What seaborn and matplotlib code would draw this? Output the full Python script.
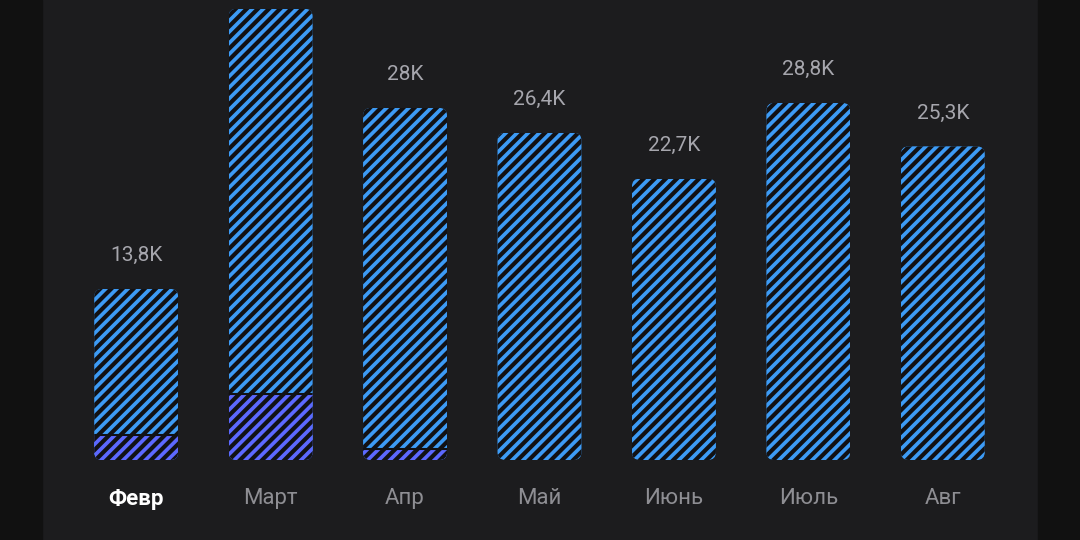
import matplotlib
matplotlib.use("Agg")
import matplotlib.pyplot as plt
import seaborn as sns
import pandas as pd
from matplotlib.patches import FancyBboxPatch, Rectangle

months = ["Февр", "Март", "Апр", "Май", "Июнь", "Июль", "Авг"]
totals = [13.8, 36.4, 28.4, 26.4, 22.7, 28.8, 25.3]
part = [2.0, 5.3, 0.9, 0.0, 0.0, 0.0, 0.0]
labels = ["13,8K", "36,4K", "28K", "26,4K", "22,7K", "28,8K", "25,3K"]

sns.set_theme(style="dark")
plt.rcParams['font.family'] = ['Roboto', 'DejaVu Sans']
plt.rcParams['hatch.color'] = '#111114'
plt.rcParams['hatch.linewidth'] = 3.0

BG = "#1c1c1e"
fig = plt.figure(figsize=(10.8, 5.4), dpi=100, facecolor=BG)
fig.patches.append(Rectangle((0, 0), 42/1080, 1, transform=fig.transFigure, color="#111111", zorder=0))
fig.patches.append(Rectangle((1038/1080, 0), 42/1080, 1, transform=fig.transFigure, color="#111111", zorder=0))
ax = fig.add_axes([69/1080, 80/540, 941/1080, 460/540])
ax.set_facecolor("none")
YMAX = 37.1

df = pd.DataFrame({"m": months, "t": totals, "p": part})
sns.barplot(data=df, x="m", y="t", color="#3d9bf5", saturation=1, width=0.625, ax=ax, linewidth=0)
sns.barplot(data=df, x="m", y="p", color="#5c68ff", saturation=1, width=0.625, ax=ax, linewidth=0)

n = len(months)
blue = ax.patches[:n]
purple = ax.patches[n:2*n]
for b, p in zip(blue, purple):
    for q in (b, p):
        q.set_hatch("///")
        q.set_edgecolor("#111114")
        q.set_linewidth(0)
    x, w, h = b.get_x(), b.get_width(), b.get_height()
    clip = FancyBboxPatch((x, 0), w, h, boxstyle="round,pad=0,rounding_size=0.06",
                          mutation_aspect=YMAX/7*941/460, transform=ax.transData,
                          facecolor="none", edgecolor="none")
    ax.add_patch(clip)
    b.set_clip_path(clip)
    p.set_clip_path(clip)
    if p.get_height() > 0:
        ax.plot([x, x + w], [p.get_height()] * 2, color="#111114", lw=1.5, clip_path=clip)

for i, (t, lab) in enumerate(zip(totals, labels)):
    if t + 3.5 < YMAX:
        ax.text(i, t + 1.9, lab, ha="center", va="bottom", color="#a6a6ad", fontsize=15)

ax.set_ylim(0, YMAX)
ax.set_xlim(-0.5, n - 0.5)
ax.set_xlabel("")
ax.set_ylabel("")
ax.set_yticks([])
ax.tick_params(axis="x", length=0, pad=20)
ax.set_xticks(range(n))
ax.set_xticklabels(months, fontsize=16, color="#8e8e93")
tl = ax.get_xticklabels()
tl[0].set_color("white")
tl[0].set_fontweight("bold")
for s in ax.spines.values():
    s.set_visible(False)
ax.grid(False)
fig.savefig("out.png", dpi=100, facecolor=BG)
